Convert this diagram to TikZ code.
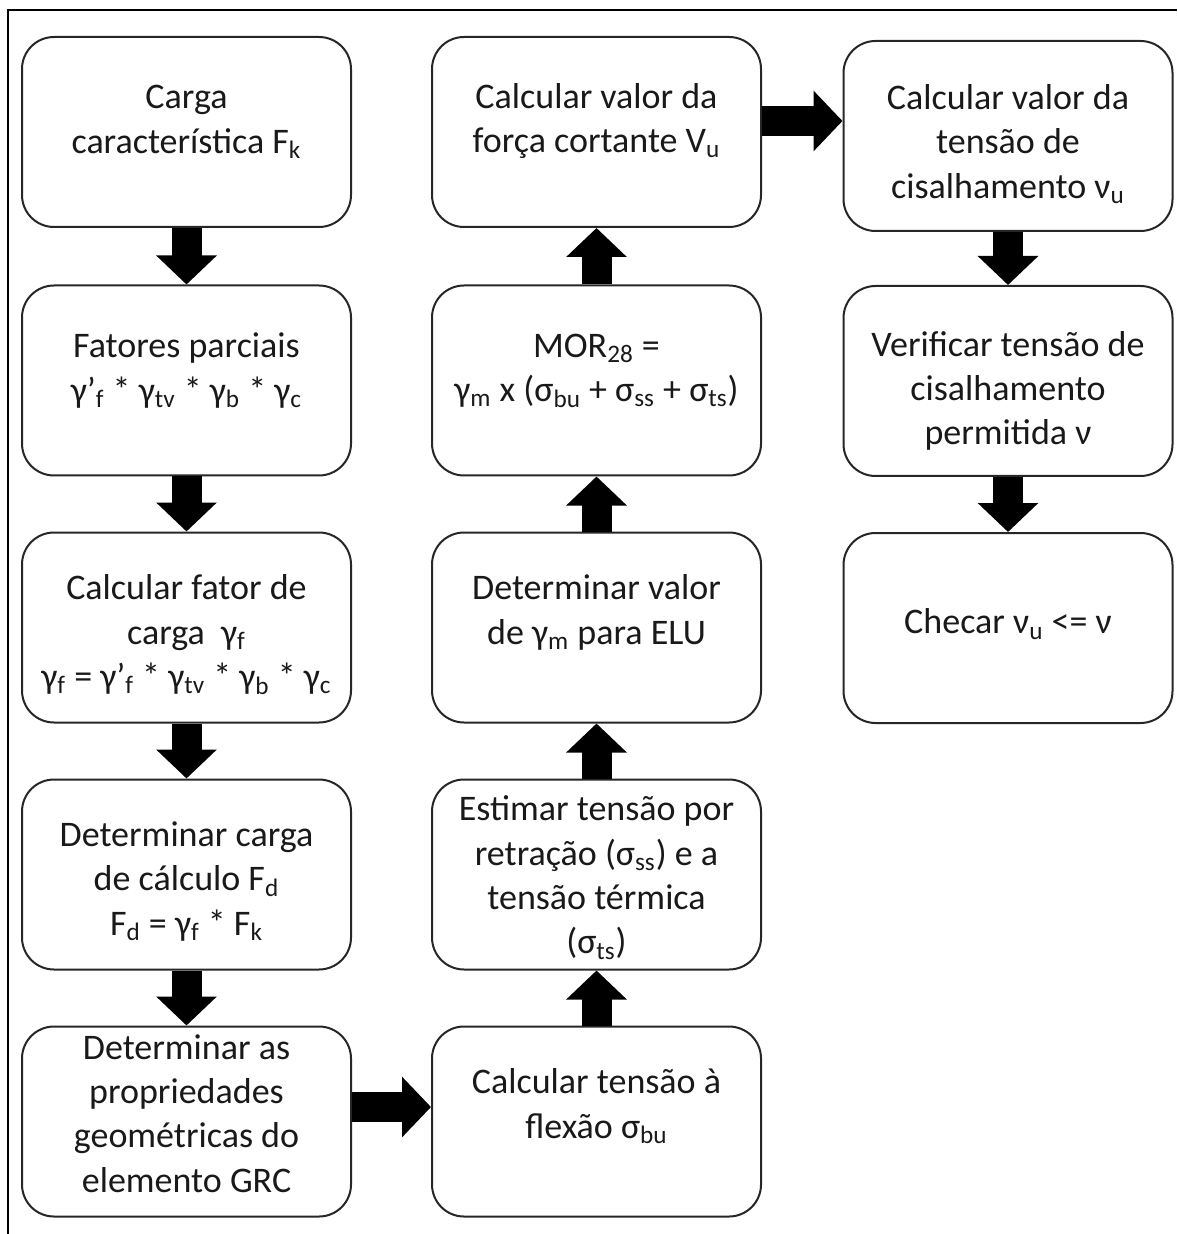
\documentclass[tikz,border=0pt]{standalone}
\usepackage{fontspec}
\setmainfont{Carlito}
\usetikzlibrary{arrows.meta}
\tikzset{
    stepbox/.style={draw=black!85,line width=1pt,rounded corners=16pt,minimum width=164.5pt,minimum height=95pt,inner sep=0pt},
    steptext/.style={align=center,inner sep=0pt,text=black!90,font=\fontsize{18}{22.2}\selectfont},
    blockarrow/.style={line width=15pt,arrows={-Triangle[width=29.5pt,length=14.5pt]}},
    }
\begin{document}
\begin{tikzpicture}[x=0.5pt,y=-0.5pt]
    \useasboundingbox (0,0) rectangle (1177,1234);
    \draw[line width=1pt] (8,1234) -- (8,10.5) -- (1177,10.5);

    \node[stepbox] (carga) at (186.5,132) {};
    \node[stepbox] (fatores) at (186.5,380.5) {};
    \node[stepbox] (fatorcarga) at (186.5,627.5) {};
    \node[stepbox] (cargacalc) at (186.5,874.5) {};
    \node[stepbox] (propgeo) at (186.5,1121.5) {};
    \node[stepbox] (flexao) at (596.5,1121.5) {};
    \node[stepbox] (retracao) at (596.5,874.5) {};
    \node[stepbox] (gamam) at (596.5,627.5) {};
    \node[stepbox] (mor) at (596.5,380.5) {};
    \node[stepbox] (cortante) at (596.5,132) {};
    \node[stepbox] (cisalh) at (1008,136) {};
    \node[stepbox] (permitida) at (1008,381) {};
    \node[stepbox] (checar) at (1008,628) {};

    \node[steptext] (cargatxt) at ([yshift=5pt]carga) {Carga\\característica F\textsubscript{k}};
    \node[steptext] (fatorestxt) at ([yshift=5pt]fatores) {Fatores parciais\\γ’\textsubscript{f} * γ\textsubscript{tv} * γ\textsubscript{b} * γ\textsubscript{c}};
    \node[steptext] (fatorcargatxt) at ([yshift=-3.5pt]fatorcarga) {Calcular fator de\\carga~ γ\textsubscript{f}\\γ\textsubscript{f} = γ’\textsubscript{f} * γ\textsubscript{tv} * γ\textsubscript{b} * γ\textsubscript{c}};
    \node[steptext] (cargacalctxt) at ([yshift=-3.5pt]cargacalc) {Determinar carga\\de cálculo F\textsubscript{d}\\F\textsubscript{d} = γ\textsubscript{f} * F\textsubscript{k}};
    \node[steptext] (propgeotxt) at ([yshift=4pt]propgeo) {Determinar as\\propriedades\\geométricas do\\elemento GRC};
    \node[steptext] (flexaotxt) at ([yshift=7.5pt]flexao) {Calcular tensão à\\flexão σ\textsubscript{bu}};
    \node[steptext] (retracaotxt) at ([yshift=-1.5pt]retracao) {Estimar tensão por\\retração (σ\textsubscript{ss}) e a\\tensão térmica\\(σ\textsubscript{ts})};
    \node[steptext] (gamamtxt) at ([yshift=7.5pt]gamam) {Determinar valor\\de γ\textsubscript{m} para ELU};
    \node[steptext] (mortxt) at ([yshift=5pt]mor) {MOR\textsubscript{28} =\\γ\textsubscript{m} x (σ\textsubscript{bu} + σ\textsubscript{ss} + σ\textsubscript{ts})};
    \node[steptext] (cortantetxt) at ([yshift=5.5pt]cortante) {Calcular valor da\\força cortante V\textsubscript{u}};
    \node[steptext] (cisalhtxt) at ([yshift=-4pt]cisalh) {Calcular valor da\\tensão de\\cisalhamento ν\textsubscript{u}};
    \node[steptext] (permitidatxt) at ([yshift=-5pt]permitida) {Verificar tensão de\\cisalhamento\\permitida ν};
    \node[steptext] (checartxt) at ([yshift=2pt]checar) {Checar ν\textsubscript{u} <= ν};

    \draw[blockarrow] (carga) -- (fatores);
    \draw[blockarrow] (fatores) -- (fatorcarga);
    \draw[blockarrow] (fatorcarga) -- (cargacalc);
    \draw[blockarrow] (cargacalc) -- (propgeo);
    \draw[blockarrow] ([yshift=7.25pt]propgeo.east) -- ([yshift=7.25pt]propgeo.east -| flexao.west);
    \draw[blockarrow] (flexao) -- (retracao);
    \draw[blockarrow] (retracao) -- (gamam);
    \draw[blockarrow] (gamam) -- (mor);
    \draw[blockarrow] (mor) -- (cortante);
    \draw[blockarrow] ([yshift=5.5pt]cortante.east) -- ([yshift=5.5pt]cortante.east -| cisalh.west);
    \draw[blockarrow] (cisalh) -- (permitida);
    \draw[blockarrow] (permitida) -- (checar);
\end{tikzpicture}
\end{document}
